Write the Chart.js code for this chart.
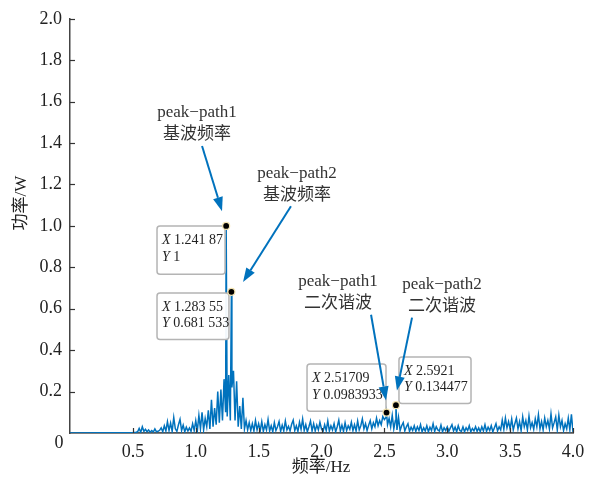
<!DOCTYPE html>
<html>
<head>
<meta charset="utf-8">
<script src="https://cdn.jsdelivr.net/npm/chart.js@4.4.1/dist/chart.umd.min.js"></script>
<style>
  html, body { margin: 0; padding: 0; background: #fff; }
  #wrap { width: 600px; height: 481px; position: relative; }
</style>
</head>
<body>
<div id="wrap"><canvas id="chartSpectrum"></canvas></div>
<script>
// spectrum samples: start at 0.5 Hz, one sample every 0.0125 Hz up to 4.0 Hz
const F_START = 0.5;
const F_STEP = 0.0125;
const powerNoise = [
  0.002, 0.003, 0.004, 0.006, 0.022, 0.004, 0.030, 0.008, 0.018, 0.006, 0.015, 0.004, 0.012, 0.005, 0.020, 0.006, 0.008, 0.013, 0.025, 0.006,
  0.035, 0.010, 0.055, 0.012, 0.048, 0.008, 0.075, 0.020, 0.008, 0.040, 0.066, 0.012, 0.038, 0.006, 0.028, 0.010, 0.024, 0.008, 0.045, 0.012,
  0.060, 0.010, 0.085, 0.020, 0.100, 0.015, 0.070, 0.030, 0.110, 0.020, 0.160, 0.030, 0.120, 0.040, 0.200, 0.050, 0.210, 0.060, 0.260, 0.100,
  0.080, 0.280, 0.060, 0.220, 0.300, 0.060, 0.250, 0.030, 0.130, 0.020, 0.170, 0.020, 0.060, 0.015, 0.050, 0.012, 0.045, 0.010, 0.060, 0.015,
  0.045, 0.010, 0.055, 0.008, 0.040, 0.015, 0.065, 0.010, 0.035, 0.006, 0.050, 0.012, 0.030, 0.055, 0.008, 0.038, 0.010, 0.058, 0.015, 0.032,
  0.010, 0.042, 0.062, 0.012, 0.035, 0.008, 0.052, 0.018, 0.068, 0.012, 0.040, 0.006, 0.030, 0.058, 0.010, 0.045, 0.010, 0.038, 0.015, 0.052,
  0.020, 0.008, 0.040, 0.012, 0.058, 0.010, 0.035, 0.015, 0.045, 0.006, 0.030, 0.062, 0.010, 0.038, 0.008, 0.050, 0.012, 0.035, 0.018, 0.052,
  0.012, 0.040, 0.010, 0.058, 0.015, 0.035, 0.068, 0.020, 0.045, 0.012, 0.038, 0.060, 0.020, 0.050, 0.030, 0.072, 0.035, 0.060, 0.040, 0.080,
  0.065, 0.075, 0.040, 0.070, 0.030, 0.085, 0.020, 0.060, 0.015, 0.075, 0.012, 0.035, 0.050, 0.010, 0.030, 0.045, 0.008, 0.028, 0.012, 0.035,
  0.008, 0.030, 0.012, 0.040, 0.006, 0.025, 0.010, 0.035, 0.006, 0.028, 0.012, 0.045, 0.008, 0.030, 0.015, 0.010, 0.038, 0.006, 0.025, 0.012,
  0.030, 0.008, 0.025, 0.040, 0.010, 0.028, 0.006, 0.035, 0.012, 0.008, 0.030, 0.006, 0.025, 0.012, 0.035, 0.006, 0.022, 0.010, 0.030, 0.008,
  0.025, 0.006, 0.030, 0.010, 0.040, 0.008, 0.028, 0.012, 0.035, 0.006, 0.025, 0.045, 0.010, 0.030, 0.015, 0.062, 0.018, 0.072, 0.025, 0.055,
  0.020, 0.068, 0.015, 0.045, 0.072, 0.020, 0.055, 0.012, 0.078, 0.030, 0.060, 0.015, 0.082, 0.025, 0.050, 0.018, 0.068, 0.030, 0.088, 0.020,
  0.055, 0.015, 0.072, 0.030, 0.060, 0.020, 0.092, 0.025, 0.050, 0.078, 0.015, 0.086, 0.030, 0.060, 0.012, 0.045, 0.020, 0.072, 0.015, 0.090,
  0.005,
];

// data tips
const peakFreq = [1.24187, 1.28355, 2.51709, 2.5921];
const peakPower = [1, 0.681533, 0.0983933, 0.134477];
const peakTipX = ['1.241 87', '1.283 55', '2.51709', '2.5921'];
const peakTipY = ['1', '0.681 533', '0.0983933', '0.134477'];

// box corners in data units: [fLeft, vTop, fRight, vBottom]
const tipBoxes = [
  [0.692, 1.0, 1.233, 0.767],
  [0.692, 0.676, 1.264, 0.452],
  [1.885, 0.333, 2.513, 0.105],
  [2.616, 0.367, 3.189, 0.143],
];

// captions: centre [f, v] of first line, then lines
const captionPos = [[1.01, 1.548], [1.805, 1.252], [2.131, 0.733], [2.958, 0.719]];
const captionLines = [
  ['peak\u2212path1', '基波频率'],
  ['peak\u2212path2', '基波频率'],
  ['peak\u2212path1', '二次谐波'],
  ['peak\u2212path2', '二次谐波'],
];
// arrows [fFrom, vFrom, fTo, vTo]
const arrows = [
  [1.05, 1.386, 1.209, 1.071],
  [1.757, 1.095, 1.376, 0.729],
  [2.394, 0.571, 2.513, 0.157],
  [2.72, 0.557, 2.60, 0.205],
];

const xTicks = [0.5, 1.0, 1.5, 2.0, 2.5, 3.0, 3.5, 4.0];

const BLUE = '#0072bd';
const SERIF = '"Liberation Serif", "DejaVu Serif", "Noto Sans CJK SC", serif';
const CJK = '"Liberation Serif", "Noto Sans CJK SC", serif';

const points = [{ x: 0, y: 0 }];
powerNoise.forEach((v, i) => points.push({ x: +(F_START + i * F_STEP).toFixed(4), y: v }));
peakFreq.forEach((f, i) => points.push({ x: f, y: peakPower[i] }));
points.sort((a, b) => a.x - b.x);

function drawArrow(ctx, x1, y1, x2, y2) {
  const ang = Math.atan2(y2 - y1, x2 - x1);
  const headLen = 14;
  const headW = 5;
  const bx = x2 - headLen * Math.cos(ang);
  const by = y2 - headLen * Math.sin(ang);
  ctx.strokeStyle = BLUE;
  ctx.fillStyle = BLUE;
  ctx.lineWidth = 2;
  ctx.beginPath();
  ctx.moveTo(x1, y1);
  ctx.lineTo(bx, by);
  ctx.stroke();
  ctx.beginPath();
  ctx.moveTo(x2, y2);
  ctx.lineTo(bx + headW * Math.sin(ang), by - headW * Math.cos(ang));
  ctx.lineTo(bx - headW * Math.sin(ang), by + headW * Math.cos(ang));
  ctx.closePath();
  ctx.fill();
}

function roundRect(ctx, x, y, w, h, r) {
  ctx.beginPath();
  ctx.moveTo(x + r, y);
  ctx.lineTo(x + w - r, y);
  ctx.quadraticCurveTo(x + w, y, x + w, y + r);
  ctx.lineTo(x + w, y + h - r);
  ctx.quadraticCurveTo(x + w, y + h, x + w - r, y + h);
  ctx.lineTo(x + r, y + h);
  ctx.quadraticCurveTo(x, y + h, x, y + h - r);
  ctx.lineTo(x, y + r);
  ctx.quadraticCurveTo(x, y, x + r, y);
  ctx.closePath();
}

const decorations = {
  id: 'decorations',
  afterDatasetsDraw(chart) {
    const { ctx, scales: { x, y }, chartArea } = chart;
    ctx.save();

    // inward ticks
    ctx.strokeStyle = '#333';
    ctx.lineWidth = 1.2;
    for (let v = 0.2; v <= 2.0001; v += 0.2) {
      const py = Math.round(y.getPixelForValue(v)) + 0.5;
      ctx.beginPath();
      ctx.moveTo(chartArea.left, py);
      ctx.lineTo(chartArea.left + 5, py);
      ctx.stroke();
    }
    xTicks.forEach((f) => {
      const px = Math.round(x.getPixelForValue(f)) + 0.5;
      ctx.beginPath();
      ctx.moveTo(px, chartArea.bottom);
      ctx.lineTo(px, chartArea.bottom - 5);
      ctx.stroke();
    });

    // origin label and axis titles
    ctx.fillStyle = '#222';
    ctx.font = '18px ' + SERIF;
    ctx.textAlign = 'center';
    ctx.textBaseline = 'middle';
    ctx.fillText('0', chartArea.left - 11, chartArea.bottom + 10);
    ctx.font = '17px ' + CJK;
    ctx.fillText('频率/Hz', 321, 468);
    ctx.save();
    ctx.translate(22, 203);
    ctx.rotate(-Math.PI / 2);
    ctx.fillText('功率/W', 0, 0);
    ctx.restore();

    // data tip boxes
    tipBoxes.forEach((b, i) => {
      const l = x.getPixelForValue(b[0]);
      const t = y.getPixelForValue(b[1]);
      const r = x.getPixelForValue(b[2]);
      const btm = y.getPixelForValue(b[3]);
      ctx.fillStyle = 'rgba(255,255,255,0.95)';
      ctx.strokeStyle = '#b4b4b4';
      ctx.lineWidth = 1.5;
      roundRect(ctx, l, t, r - l, btm - t, 3);
      ctx.fill();
      ctx.stroke();
      ctx.fillStyle = '#222';
      ctx.textAlign = 'left';
      ctx.textBaseline = 'middle';
      const h = btm - t;
      const rows = [['X', peakTipX[i]], ['Y', peakTipY[i]]];
      rows.forEach((row, k) => {
        const ty = t + h * (k === 0 ? 0.3 : 0.66);
        ctx.font = 'italic 14px ' + SERIF;
        ctx.fillText(row[0], l + 5, ty);
        const w = ctx.measureText(row[0] + ' ').width;
        ctx.font = '14px ' + SERIF;
        ctx.fillText(row[1], l + 5 + w, ty);
      });
    });

    // arrows
    arrows.forEach((a) => {
      drawArrow(ctx, x.getPixelForValue(a[0]), y.getPixelForValue(a[1]),
        x.getPixelForValue(a[2]), y.getPixelForValue(a[3]));
    });

    // captions
    ctx.fillStyle = '#333';
    ctx.textAlign = 'center';
    ctx.textBaseline = 'middle';
    captionLines.forEach((lines, i) => {
      const cx = x.getPixelForValue(captionPos[i][0]);
      const cy = y.getPixelForValue(captionPos[i][1]);
      ctx.font = '17px ' + SERIF;
      ctx.fillText(lines[0], cx, cy);
      ctx.font = '17px ' + CJK;
      ctx.fillText(lines[1], cx, cy + 22);
    });

    // peak markers
    peakFreq.forEach((f, i) => {
      ctx.beginPath();
      ctx.arc(x.getPixelForValue(f), y.getPixelForValue(peakPower[i]), 3.5, 0, Math.PI * 2);
      ctx.fillStyle = '#000';
      ctx.fill();
      ctx.strokeStyle = '#f3e3b0';
      ctx.lineWidth = 1.2;
      ctx.stroke();
    });

    ctx.restore();
  },
};

new Chart(document.getElementById('chartSpectrum').getContext('2d'), {
  type: 'line',
  data: {
    datasets: [
      {
        label: '功率',
        data: points,
        borderColor: BLUE,
        borderWidth: 1.5,
        pointRadius: 0,
        tension: 0,
        fill: false,
      },
    ],
  },
  options: {
    responsive: true,
    maintainAspectRatio: false,
    animation: false,
    layout: { padding: { top: 13, right: 27, left: 0, bottom: 0 } },
    plugins: {
      legend: { display: false },
      tooltip: { enabled: false },
    },
    scales: {
      x: {
        type: 'linear',
        min: 0,
        max: 4,
        afterFit(scale) { scale.height = 48; },
        afterBuildTicks(scale) { scale.ticks = xTicks.map((v) => ({ value: v })); },
        grid: { display: false, drawTicks: false },
        border: { display: true, color: '#555', width: 1.8 },
        ticks: {
          padding: 8,
          color: '#222',
          font: { family: SERIF, size: 18 },
          maxRotation: 0,
          callback: (v) => v.toFixed(1),
        },
      },
      y: {
        min: 0,
        max: 2,
        afterFit(scale) { scale.width = 70; },
        grid: { display: false, drawTicks: false },
        border: { display: true, color: '#444', width: 1.5 },
        ticks: {
          stepSize: 0.2,
          padding: 8,
          color: '#222',
          font: { family: SERIF, size: 18 },
          callback: (v) => (v === 0 ? '' : v.toFixed(1)),
        },
      },
    },
  },
  plugins: [decorations],
});
</script>
</body>
</html>
